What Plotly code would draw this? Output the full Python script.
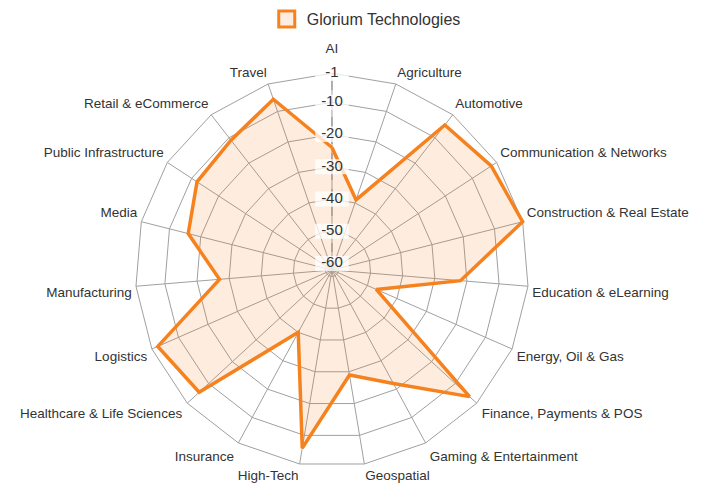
import math
import plotly.graph_objects as go

# industries, clockwise from the top
categories = [
    "AI", "Agriculture", "Automotive", "Communication & Networks",
    "Construction & Real Estate", "Education & eLearning", "Energy, Oil & Gas",
    "Finance, Payments & POS", "Gaming & Entertainment", "Geospatial",
    "High-Tech", "Insurance", "Healthcare & Life Sciences", "Logistics",
    "Manufacturing", "Media", "Public Infrastructure", "Retail & eCommerce",
    "Travel",
]
# negative ranks (-1 = best)
ranks = [-24, -39, -5, -3, -1, -22, -47, -4, -22, -29,
         -6, -40, -6, -3, -27, -16, -12, -11, -6]
tick_vals = [-1, -10, -20, -30, -40, -50, -60]
tick_text = ["-1", "-10", "-20", "-30", "-40", "-50", "-60"]

# rank shown at the centre / at the outer ring
R_CENTER = -62
R_OUTER = -1

ORANGE = "#F5821F"
GRID = "#A0A0A0"
FONT = "Arial, Liberation Sans, sans-serif"
LABEL_GAP = 1.3    # category labels sit this far (rank units) beyond the outer ring
TOP_EXTRA = 4.0    # extra lift for the label straight at the top
LOW_EXTRA = 1.9    # extra drop for labels in the lower half
BOTTOM_DAMP = 0.3  # ...but less for the two labels right at the bottom
R_MAX = 67         # radial range head-room so the labels are not hidden


def to_r(v):
    # plotly polar cannot hide/show points on a negative radial range, so shift
    return v - R_CENTER


n = len(categories)
outer = to_r(R_OUTER)
label_r, label_pos = [], []
for i in range(n):
    ang = 360.0 * i / n
    s = math.sin(math.radians(ang))
    c = math.cos(math.radians(ang))
    if abs(s) < 1e-6:
        pos = "top center"
    else:
        pos = ("top " if c > 0 else "bottom ") + ("right" if s > 0 else "left")
    label_pos.append(pos)
    if i == 0:
        extra = TOP_EXTRA
    else:
        extra = LOW_EXTRA * max(0.0, -c) ** 2
        if abs(s) < 0.3:
            extra *= BOTTOM_DAMP
    label_r.append(outer + LABEL_GAP + extra)

# spokes (only up to the outer ring)
spoke_r, spoke_t = [], []
for cat in categories:
    spoke_r += [0, outer, None]
    spoke_t += [cat, cat, None]

fig = go.Figure()

fig.add_trace(go.Scatterpolar(
    r=spoke_r,
    theta=spoke_t,
    mode="lines",
    line=dict(color=GRID, width=1),
    showlegend=False,
    hoverinfo="skip",
))

fig.add_trace(go.Scatterpolar(
    r=[to_r(v) for v in ranks + ranks[:1]],
    theta=categories + categories[:1],
    mode="lines",
    fill="toself",
    fillcolor="rgba(245,130,31,0.14)",
    line=dict(color=ORANGE, width=3.5),
    name="Glorium Technologies",
    showlegend=False,
))

# legend entry drawn as a box
fig.add_trace(go.Scatterpolar(
    r=[None],
    theta=[None],
    mode="markers",
    marker=dict(symbol="square", size=16, color="#FDEDE0",
                line=dict(color=ORANGE, width=3)),
    name="Glorium Technologies",
))

# dashed radial axis line
fig.add_trace(go.Scatterpolar(
    r=[0, outer],
    theta=[categories[0], categories[0]],
    mode="lines",
    line=dict(color="#8c8c8c", width=1, dash="dash"),
    showlegend=False,
    hoverinfo="skip",
))

# radial tick labels centred on the axis, with a light backdrop
fig.add_trace(go.Scatterpolar(
    r=[to_r(v) for v in tick_vals],
    theta=[categories[0]] * len(tick_vals),
    mode="markers+text",
    marker=dict(symbol="line-ew", size=24, color="rgba(255,255,255,0)",
                line=dict(color="rgba(255,255,255,0.75)", width=15)),
    text=tick_text,
    textposition="middle center",
    textfont=dict(family=FONT, size=15, color="#333333"),
    cliponaxis=False,
    showlegend=False,
    hoverinfo="skip",
))

# category labels around the outside
fig.add_trace(go.Scatterpolar(
    r=label_r,
    theta=categories,
    mode="text",
    text=categories,
    textposition=label_pos,
    textfont=dict(family=FONT, size=13.5, color="#333333"),
    cliponaxis=False,
    showlegend=False,
    hoverinfo="skip",
))

fig.update_layout(
    width=708,
    height=485,
    margin=dict(l=0, r=0, t=0, b=0, autoexpand=False),
    paper_bgcolor="white",
    plot_bgcolor="white",
    font=dict(family=FONT, color="#333333"),
    polar=dict(
        domain=dict(x=[0.1525, 0.7627], y=[0.0144, 0.9052]),
        bgcolor="white",
        gridshape="linear",
        angularaxis=dict(
            rotation=90,
            direction="clockwise",
            showgrid=False,
            showline=False,
            ticks="",
            showticklabels=False,
        ),
        radialaxis=dict(
            range=[0, R_MAX],
            tickvals=[to_r(v) for v in tick_vals],
            showticklabels=False,
            ticks="",
            showline=False,
            gridcolor=GRID,
            gridwidth=1,
        ),
    ),
    legend=dict(
        orientation="h",
        x=0.506,
        xanchor="center",
        y=1.012,
        yanchor="top",
        font=dict(family=FONT, size=16, color="#333333"),
    ),
)

fig.write_html("out.html")
